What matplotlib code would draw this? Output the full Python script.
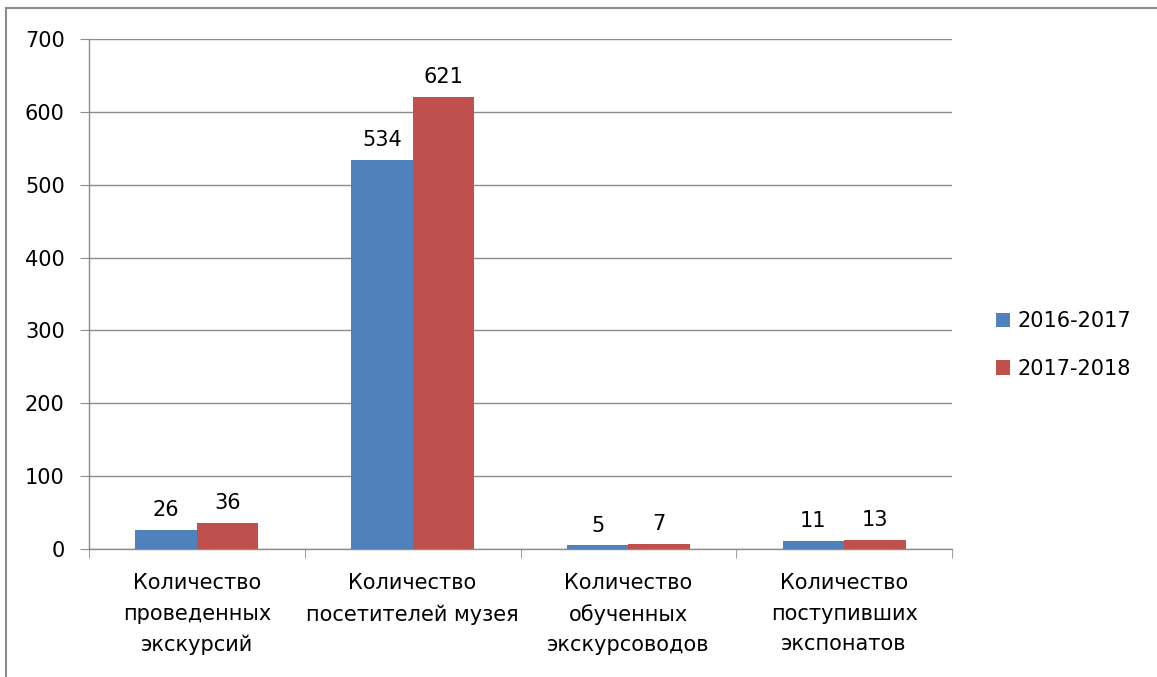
import matplotlib
matplotlib.use("Agg")
import matplotlib.pyplot as plt
from matplotlib.patches import Rectangle
import numpy as np

categories = ["Количество\nпроведенных\nэкскурсий",
              "Количество\nпосетителей музея",
              "Количество\nобученных\nэкскурсоводов",
              "Количество\nпоступивших\nэкспонатов"]
series_names = ["2016-2017", "2017-2018"]
values_2016 = [26, 534, 5, 11]
values_2017 = [36, 621, 7, 13]
yticks = [0, 100, 200, 300, 400, 500, 600, 700]

colors = ["#4F81BD", "#C0504D"]
FONT = ["Liberation Sans Narrow", "DejaVu Sans Condensed", "DejaVu Sans"]
plt.rcParams['font.family'] = FONT
W, H = 1157, 677
fig = plt.figure(figsize=(W/100, H/100), dpi=100)
ax = fig.add_axes([89/W, 1-549/H, (952-89)/W, (549-39)/H])

x = np.arange(len(categories))
bw = 0.285
b1 = ax.bar(x - bw/2, values_2016, bw, color=colors[0], label=series_names[0], zorder=3)
b2 = ax.bar(x + bw/2, values_2017, bw, color=colors[1], label=series_names[1], zorder=3)
for bars, vals in ((b1, values_2016), (b2, values_2017)):
    for r, v in zip(bars, vals):
        ax.annotate(str(v), (r.get_x() + r.get_width()/2, r.get_height()),
                    xytext=(0, 7), textcoords="offset points",
                    ha="center", va="bottom", fontsize=15, color="#000000")

ax.set_xlim(-0.5, len(categories) - 0.5)
ax.set_ylim(0, 700)
ax.set_yticks(yticks)
ax.set_yticklabels([str(t) for t in yticks], fontsize=15)
ax.yaxis.grid(True, color="#8c8c8c", linewidth=1, zorder=0)
ax.set_xticks(x)
ax.set_xticklabels(categories, fontsize=15, linespacing=1.65)
ax.set_xticks(np.arange(len(categories) + 1) - 0.5, minor=True)
ax.tick_params(axis="x", which="major", length=0, pad=17.5)
ax.tick_params(axis="x", which="minor", length=6.5, color="#8c8c8c", direction="out")
ax.tick_params(axis="y", length=6.5, color="#8c8c8c", direction="out", pad=11)
for s in ("top", "right"):
    ax.spines[s].set_visible(False)
for s in ("left", "bottom"):
    ax.spines[s].set_color("#8c8c8c")
    ax.spines[s].set_linewidth(1)

leg = fig.legend(loc="center left", bbox_to_anchor=(977/W, 1-345/H), frameon=False,
                 fontsize=15, handlelength=0.7, handleheight=0.7, handletextpad=0.35,
                 labelspacing=1.3)

fig.patches.append(Rectangle((6/W, -0.1), 1.2, 1 - 8/H + 0.1, transform=fig.transFigure,
                             fill=False, edgecolor="#8c8c8c", linewidth=1.5))
fig.savefig("out.png", dpi=100)
